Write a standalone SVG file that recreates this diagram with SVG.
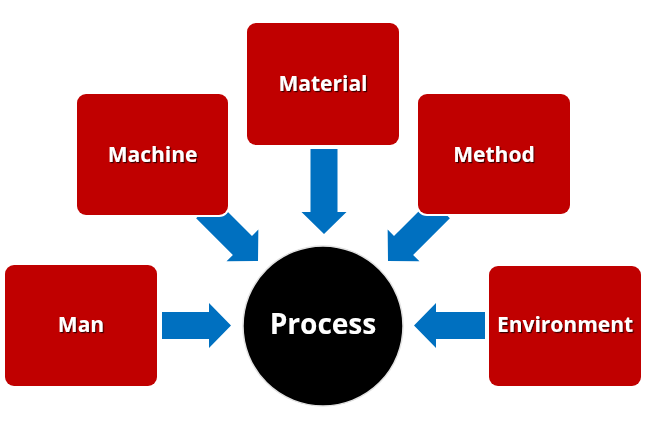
<svg xmlns="http://www.w3.org/2000/svg" width="655" height="429" viewBox="0 0 655 429">
<defs>
<filter id="ts" x="-20%" y="-40%" width="140%" height="180%">
<feDropShadow dx="1.2" dy="1.2" stdDeviation="0.7" flood-color="#000" flood-opacity="0.7"/>
</filter>
<path id="arr74" d="M-74,-13.5 L-22,-13.5 L-22,-22.5 L0,0 L-22,22.5 L-22,13.5 L-74,13.5 Z"/>
</defs>
<style>
.box{fill:#C00000;stroke:#fff;stroke-width:4;paint-order:stroke}
.arrow{fill:#0070C0}
.lbl{font-family:"Open Sans","Liberation Sans",sans-serif;font-weight:bold;font-size:21px;fill:#fff;text-anchor:middle;filter:url(#ts)}
.big{font-size:28px}
</style>
<rect width="655" height="429" fill="#fff"/>
<g id="connectors">
<path class="arrow" d="M162,312 L209,312 L209,303 L231,325.5 L209,348 L209,339 L162,339 Z"/>
<path class="arrow" d="M485,312 L436,312 L436,303 L414,325.5 L436,348 L436,339 L485,339 Z"/>
<path class="arrow" d="M310.5,149 L310.5,212 L301.5,212 L324,234 L346.5,212 L337.5,212 L337.5,149 Z"/>
<use href="#arr74" class="arrow" transform="translate(258,261) rotate(45)"/>
<use href="#arr74" class="arrow" transform="translate(388,261) rotate(135)"/>
</g>
<g id="man">
<rect class="box" x="5" y="265" width="152" height="121" rx="9"/>
<text class="lbl" x="81" y="332">Man</text>
</g>
<g id="machine">
<rect class="box" x="77" y="94" width="151" height="121" rx="9"/>
<text class="lbl" x="152.5" y="162">Machine</text>
</g>
<g id="material">
<rect class="box" x="247" y="23" width="152" height="122" rx="9"/>
<text class="lbl" x="323" y="91">Material</text>
</g>
<g id="method">
<rect class="box" x="418" y="94" width="152" height="120" rx="9"/>
<text class="lbl" x="494" y="162">Method</text>
</g>
<g id="environment">
<rect class="box" x="489" y="266" width="152" height="120" rx="9"/>
<text class="lbl" x="565" y="332">Environment</text>
</g>
<g id="process">
<circle cx="323" cy="326" r="80" fill="#000" stroke="#e2e2e2" stroke-width="1.5"/>
<text class="lbl big" x="323" y="334">Process</text>
</g>
</svg>
